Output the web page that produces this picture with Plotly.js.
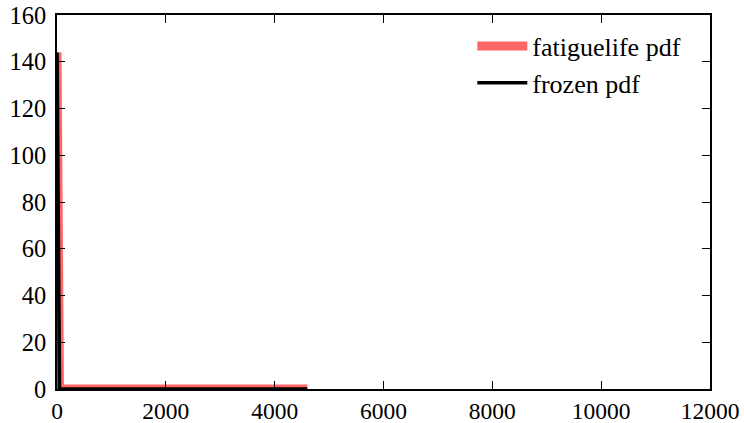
<!DOCTYPE html>
<html>
<head>
<meta charset="utf-8">
<script src="https://cdn.plot.ly/plotly-3.0.1.min.js"></script>
<style>html,body{margin:0;padding:0;background:#fff;}#chart{width:744px;height:423px;}</style>
</head>
<body>
<div id="chart"></div>
<script>
// values
const fatigueX = [0.2, 46, 1500, 3000, 4600];
const fatigueY = [144, 0.001, 0.0, 0.0, 0.0];
const frozenX = [0.2, 46, 1500, 3000, 4600];
const frozenY = [144, 0.001, 0.0, 0.0, 0.0];
const xTicks = [0, 2000, 4000, 6000, 8000, 10000, 12000];
const yTicks = [0, 20, 40, 60, 80, 100, 120, 140, 160];
const seriesNames = ['fatiguelife pdf', 'frozen pdf'];

const serif = '"Liberation Serif", "Times New Roman", serif';

const traces = [
  {x: fatigueX, y: fatigueY, name: seriesNames[0], mode: 'lines',
   line: {color: 'rgba(255,0,0,0.6)', width: 9}, hoverinfo: 'skip'},
  {x: frozenX, y: frozenY, name: seriesNames[1], mode: 'lines',
   line: {color: '#000000', width: 3.6}, hoverinfo: 'skip'}
];

const axisCommon = {
  showline: true, linecolor: '#000', linewidth: 1.8, mirror: 'ticks',
  ticks: 'inside', ticklen: 8, tickwidth: 1, tickcolor: '#000',
  showgrid: false, zeroline: false,
  tickfont: {family: serif, size: 24.5, color: '#000'}
};

const layout = {
  width: 744, height: 423,
  margin: {l: 57, r: 34, t: 15, b: 34},
  paper_bgcolor: '#fff', plot_bgcolor: '#fff',
  showlegend: true,
  legend: {x: 0.636, y: 0.98, xanchor: 'left', yanchor: 'top',
           bgcolor: 'rgba(0,0,0,0)', borderwidth: 0, itemwidth: 50,
           font: {family: serif, size: 26, color: '#000'}, tracegroupgap: 0},
  xaxis: Object.assign({}, axisCommon, {range: [0, 12000], tickvals: xTicks,
           ticktext: xTicks.map(String), ticklabelstandoff: 0,
           tickfont: {family: serif, size: 23.5, color: '#000'}}),
  yaxis: Object.assign({}, axisCommon, {range: [0, 160], tickvals: yTicks,
           ticktext: yTicks.map(String), ticklabelstandoff: 4})
};

Plotly.newPlot('chart', traces, layout, {staticPlot: true});
</script>
</body>
</html>
